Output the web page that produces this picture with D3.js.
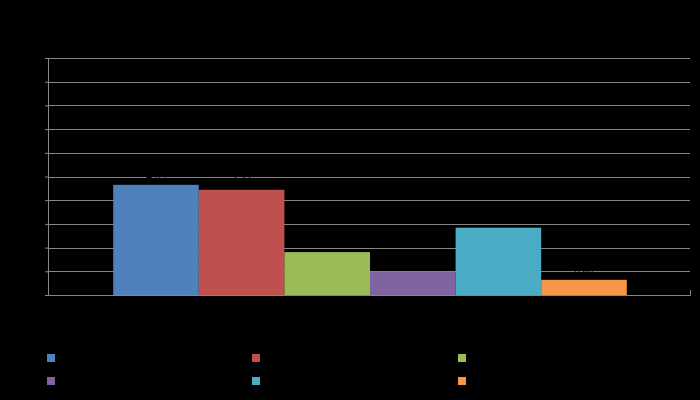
<!DOCTYPE html>
<html>
<head>
<meta charset="utf-8">
<script src="https://cdn.jsdelivr.net/npm/d3@7"></script>
<style>
  html, body { margin: 0; padding: 0; background: #000; }
  svg { display: block; font-family: "Liberation Sans", "DejaVu Sans", sans-serif; }
</style>
</head>
<body>
<svg id="chart" width="700" height="400"></svg>
<script>
// ---- data ----
const categories = ["Category"];
const seriesNames = ["Series 1", "Series 2", "Series 3", "Series 4", "Series 5", "Series 6"];
const seriesValues = [4.65, 4.44, 1.81, 0.97, 2.84, 0.64];
const seriesColors = ["#4F81BD", "#C0504D", "#9BBB59", "#8064A2", "#4BACC6", "#F79646"];
const yTicks = [0, 1, 2, 3, 4, 5, 6, 7, 8, 9, 10];
const chartTitle = "Chart Title";

// ---- layout ----
const svg = d3.select("#chart");
const W = 700, H = 400;
const m = { left: 48, right: 10, top: 58, bottom: 105 };
const plotW = W - m.left - m.right;   // 642
const plotH = H - m.top - m.bottom;   // 237

svg.append("rect").attr("width", W).attr("height", H).attr("fill", "#000");

const g = svg.append("g").attr("transform", `translate(${m.left},${m.top})`);

const y = d3.scaleLinear().domain([0, 10]).range([plotH, 0]);
const x0 = d3.scaleBand().domain(categories).range([0, plotW]).paddingInner(0).paddingOuter(0);
// gap width 150%: 6 bars + 1.5 bar gap
const groupInner = x0.bandwidth() * 6 / 7.5;
const x1 = d3.scaleBand().domain(seriesNames)
  .range([(x0.bandwidth() - groupInner) / 2 + 1, (x0.bandwidth() + groupInner) / 2 + 1])
  .padding(0);

// title (black on black, as in reference)
svg.append("text").attr("x", W / 2).attr("y", 28).attr("text-anchor", "middle")
  .attr("font-size", 18).attr("font-weight", "bold").attr("fill", "#000").text(chartTitle);

// gridlines
g.append("g").selectAll("line").data(yTicks.slice(1)).join("line")
  .attr("x1", 0).attr("x2", plotW)
  .attr("y1", d => Math.round(y(d)) + 0.5).attr("y2", d => Math.round(y(d)) + 0.5)
  .attr("stroke", "#868686").attr("stroke-width", 1);

// y axis
const yAxis = d3.axisLeft(y).tickValues(yTicks).tickSize(3).tickPadding(4);
const yAx = g.append("g").call(yAxis);
yAx.select(".domain").attr("stroke", "#868686");
yAx.selectAll(".tick line").attr("stroke", "#868686");
yAx.selectAll(".tick text").attr("fill", "#000").attr("font-size", 10);

// bars
g.append("g").selectAll("rect").data(seriesNames.map((s, i) => ({ s, v: seriesValues[i], c: seriesColors[i] })))
  .join("rect")
  .attr("x", d => x0(categories[0]) + x1(d.s))
  .attr("width", x1.bandwidth())
  .attr("y", d => y(d.v))
  .attr("height", d => plotH - y(d.v))
  .attr("fill", d => d.c);

// data labels (black)
g.append("g").selectAll("text").data(seriesNames.map((s, i) => ({ s, v: seriesValues[i] })))
  .join("text")
  .attr("x", d => x0(categories[0]) + x1(d.s) + x1.bandwidth() / 2)
  .attr("y", d => y(d.v) - 5)
  .attr("text-anchor", "middle").attr("font-size", 10).attr("fill", "#000")
  .text(d => d.v.toFixed(2));

// x axis
const xAxis = d3.axisBottom(x0).tickSize(0).tickPadding(8);
const xAx = g.append("g").attr("transform", `translate(0,${plotH})`).call(xAxis);
xAx.select(".domain").attr("stroke", "#868686");
xAx.selectAll(".tick text").attr("fill", "#000").attr("font-size", 10);
// boundary tick marks
g.append("g").selectAll("line").data([0, plotW]).join("line")
  .attr("x1", d => d + 0.5).attr("x2", d => d + 0.5)
  .attr("y1", plotH - 5).attr("y2", plotH + 0.5)
  .attr("stroke", "#868686");

// legend
const leg = svg.append("g");
const colX = [47, 252, 458], rowY = [354, 377];
seriesNames.forEach((s, i) => {
  const gx = colX[i % 3], gy = rowY[Math.floor(i / 3)];
  leg.append("rect").attr("x", gx).attr("y", gy).attr("width", 8).attr("height", 8).attr("fill", seriesColors[i]);
  leg.append("text").attr("x", gx + 13).attr("y", gy + 8).attr("font-size", 11).attr("fill", "#000").text(s);
});
</script>
</body>
</html>
